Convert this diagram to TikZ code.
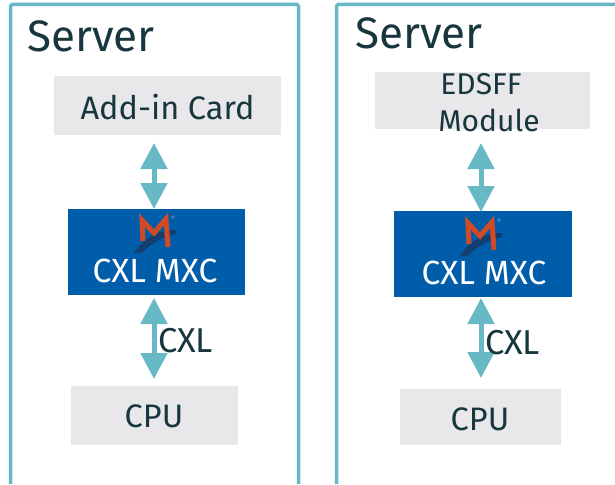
\documentclass[tikz,border=0pt]{standalone}
\usepackage{fontspec}
\setmainfont{Fira Sans}
\usetikzlibrary{arrows.meta}
\definecolor{frameteal}{HTML}{68B9C6}
\definecolor{inkdark}{HTML}{17363D}
\definecolor{mxcblue}{HTML}{005DAA}
\definecolor{boxgrey}{HTML}{E8E8EA}
\definecolor{logored}{HTML}{D04A26}
\definecolor{logoblue}{HTML}{123F70}
\tikzset{
    frame/.style={draw=frameteal, line width=3.5pt, rounded corners=1.5pt},
    greybox/.style={fill=boxgrey, text=inkdark, inner sep=0pt, outer sep=0pt, font=\fontsize{32.5}{36}\selectfont},
    bluebox/.style={fill=mxcblue, inner sep=0pt, outer sep=0pt},
    mxctext/.style={text=white, inner sep=0pt, font=\fontsize{33.5}{37}\selectfont},
    title/.style={text=inkdark, inner sep=0pt, font=\fontsize{44}{48}\selectfont},
    link/.style={draw=frameteal, line width=5pt, {Triangle[width=26pt,length=26pt]}-{Triangle[width=26pt,length=26pt]}},
    linklabel/.style={right, text=inkdark, inner sep=0pt, xshift=1.5pt, font=\fontsize{34.5}{38}\selectfont},
    pics/mxclogo/.style={code={
        \fill [logoblue] (-21,37) .. controls (-9,19) and (5,14) .. (21,14) -- (21,18) .. controls (7,21) and (-5,28) .. (-13,37) -- cycle;
        \draw [logored, line width=5pt, line join=miter] (-12,25) -- (-13,4) -- (-1,17) -- (11,3) -- (13,31);
        \node (#1) [text=boxgrey!60!mxcblue, inner sep=0pt, font=\fontsize{6}{6}\selectfont] at (18,2) {\textregistered};
    }}
}
\begin{document}
\begin{tikzpicture}[x=1pt, y=-1pt]
    \useasboundingbox (0,0) rectangle (615,484);
    \draw [frame] (10.5,484) -- (10.5,4.5) -- (298.5,4.5) -- (298.5,484);
    \draw [frame] (336.5,484) -- (336.5,4.5) -- (615,4.5);
    \coordinate (axisA) at (154,0);
    \coordinate (axisB) at (481,0);
    \node (titleA) [title, anchor=base west] at (27,52) {Server};
    \node (titleB) [title, anchor=base west] at (355,49) {Server};
    \node (card) [greybox, minimum width=227pt, minimum height=59pt] at (167.5,105.5) {};
    \node (cardtext) [greybox, fill=none] at (167.5,107) {Add-in Card};
    \node (edsff) [greybox, minimum width=215pt, minimum height=57pt] at (482.5,100.5) {};
    \node (edsffA) [greybox, fill=none, font=\fontsize{30}{34}\selectfont] at (481,84) {EDSFF};
    \node (edsffB) [greybox, fill=none, font=\fontsize{30}{34}\selectfont] at (489,120) {Module};
    \node (mxcA) [bluebox, minimum width=177pt, minimum height=86pt] at (156.5,252) {};
    \node (mxcB) [bluebox, minimum width=178pt, minimum height=86pt] at (483,254) {};
    \node (mxcAtext) [mxctext] at (155,271) {CXL MXC};
    \node (mxcBtext) [mxctext] at (484,273) {CXL MXC};
    \pic at (155,216) {mxclogo=regA};
    \pic at (481,219) {mxclogo=regB};
    \node (cpuA) [greybox, minimum width=167pt, minimum height=59pt] at (154.5,415.5) {};
    \node (cpuAtext) [greybox, fill=none] at (154,416.5) {CPU};
    \node (cpuB) [greybox, minimum width=161pt, minimum height=56pt] at (480.5,417) {};
    \node (cpuBtext) [greybox, fill=none] at (480,419.5) {CPU};
    \draw [link, shorten <=8pt] (card.south -| axisA) -- (mxcA.north -| axisA);
    \draw [link, shorten >=-1pt, shorten <=14pt] (edsff.south -| axisB) -- (mxcB.north -| axisB);
    \draw [link, shorten <=3pt, shorten >=7pt] (mxcA.south -| axisA) -- node[linklabel] {CXL} (cpuA.north -| axisA);
    \draw [link, shorten <=1pt, shorten >=11pt] (mxcB.south -| axisB) -- node[linklabel] {CXL} (cpuB.north -| axisB);
\end{tikzpicture}
\end{document}
